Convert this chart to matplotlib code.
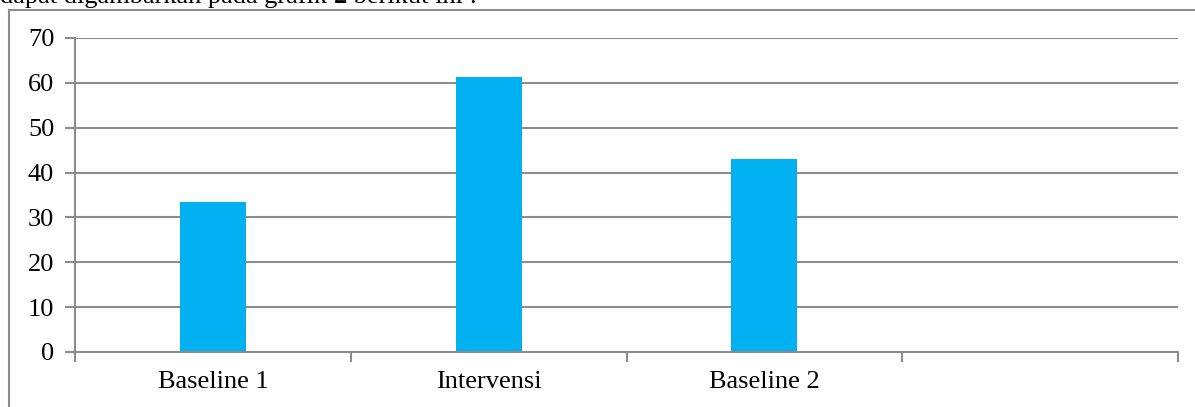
"""Bar chart of the three phases (Baseline 1, Intervensi, Baseline 2)."""

import matplotlib

matplotlib.use("Agg")
import matplotlib.pyplot as plt  # noqa: E402
from matplotlib.lines import Line2D  # noqa: E402

categories = ["Baseline 1", "Intervensi", "Baseline 2", ""]
values = [33.4, 61.3, 43.0]
y_ticks = [0, 10, 20, 30, 40, 50, 60, 70]

GRID = "#8c8c8c"
BAR = "#00b0f0"

plt.rcParams["font.family"] = ["Liberation Serif", "DejaVu Serif"]

W, H = 1195, 407
fig = plt.figure(figsize=(W / 100, H / 100), dpi=100)

# axes box in pixel terms: x 75..1178, y 38..352 (from top)
ax = fig.add_axes([75 / W, (H - 352) / H, (1178 - 75) / W, (352 - 38) / H])

xs = range(len(values))
ax.bar(xs, values, width=0.24, color=BAR, zorder=3)

ax.set_xlim(-0.5, len(categories) - 0.5)
ax.set_ylim(0, 70)
ax.set_yticks(y_ticks)
ax.set_yticklabels([str(t) for t in y_ticks], fontsize=19)
ax.yaxis.grid(True, color=GRID, linewidth=1.5, zorder=0)

# category labels at centres, tick marks at category boundaries
ax.set_xticks(range(len(categories)))
ax.set_xticklabels(categories, fontsize=19)
ax.tick_params(axis="x", length=0, pad=14)
ax.set_xticks([i - 0.5 for i in range(len(categories) + 1)], minor=True)
ax.tick_params(axis="x", which="minor", length=7, width=1.5, color=GRID)
ax.tick_params(axis="y", length=7, width=1.5, color=GRID, pad=8)

for side in ("top", "right"):
    ax.spines[side].set_visible(False)
for side in ("left", "bottom"):
    ax.spines[side].set_color(GRID)
    ax.spines[side].set_linewidth(1.5)
    ax.spines[side].set_zorder(4)

# outer chart frame (left and top edges visible)
fx, fy = 8.5 / W, 1 - 10 / H
fig.add_artist(Line2D([fx, fx], [0, fy], transform=fig.transFigure,
                      color=GRID, linewidth=1.5))
fig.add_artist(Line2D([fx, 1], [fy, fy], transform=fig.transFigure,
                      color=GRID, linewidth=1.5))

# running text line above the chart (top half falls outside the page)
base_y = 1 - 3 / H
parts = [("dapat digambarkan pada grafik ", "normal"),
         ("2", "bold"),
         (" berikut ini :", "normal")]
x = 0.0
for s, weight in parts:
    t = fig.text(x, base_y, s, fontsize=19, fontweight=weight,
                 va="baseline", ha="left")
    fig.canvas.draw()
    x = t.get_window_extent().x1 / W

fig.savefig("out.png", dpi=100)
